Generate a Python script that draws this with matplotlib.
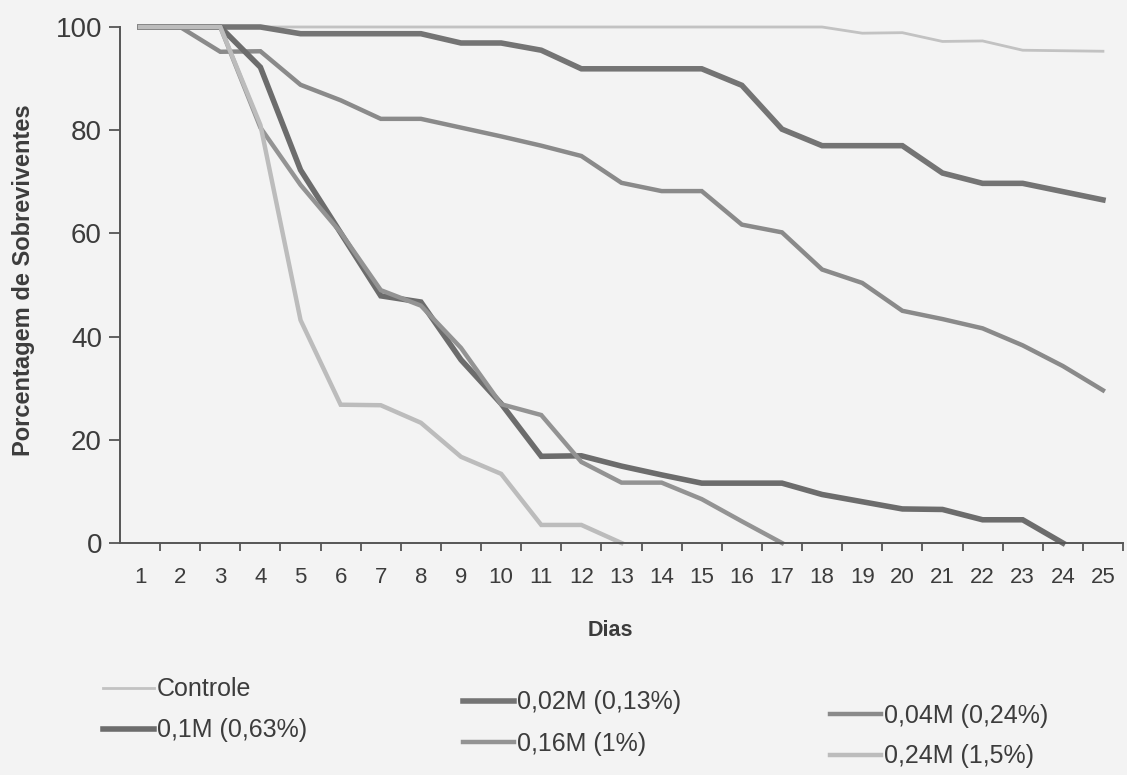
import numpy as np
import matplotlib
matplotlib.use("Agg")
from matplotlib import pyplot as plt

plt.rcParams["font.family"] = ["Liberation Sans", "DejaVu Sans"]

nan = np.nan

DAYS = list(range(1, 26))

CONTROLE = [100, 100, 100, 100, 100, 100, 100, 100, 100, 100, 100, 100, 100,
            100, 100, 100, 100, 100, 98.8, 98.9, 97.2, 97.3, 95.5, 95.4, 95.3]
M_002 = [100, 100, 100, 100, 98.7, 98.7, 98.7, 98.7, 96.9, 96.9, 95.5, 91.9,
         91.9, 91.9, 91.9, 88.7, 80.2, 77.0, 77.0, 77.0, 71.7, 69.7, 69.7,
         68.1, 66.5]
M_004 = [100, 100, 95.2, 95.3, 88.8, 85.8, 82.2, 82.2, 80.5, 78.8, 77.0, 75.0,
         69.8, 68.2, 68.2, 61.7, 60.2, 53.0, 50.4, 45.0, 43.4, 41.6, 38.3,
         34.3, 29.6]
M_01 = [100, 100, 100, 92.2, 72.3, 60.1, 47.9, 46.7, 35.5, 27.0, 16.8, 16.9,
        14.9, 13.2, 11.6, 11.6, 11.6, 9.4, 8.0, 6.6, 6.5, 4.5, 4.5, 0, nan]
M_016 = [100, 100, 100, 80.5, 69.4, 60.2, 49.0, 46.0, 37.8, 26.9, 24.8, 15.7,
         11.7, 11.7, 8.5, 4.2, 0, nan, nan, nan, nan, nan, nan, nan, nan]
M_024 = [100, 100, 100, 81.0, 43.2, 26.8, 26.7, 23.3, 16.7, 13.4, 3.5, 3.5,
         0, nan, nan, nan, nan, nan, nan, nan, nan, nan, nan, nan, nan]

SERIES = [
    ("Controle", CONTROLE, "#c2c2c2", 2.0),
    ("0,02M (0,13%)", M_002, "#747474", 4.0),
    ("0,04M (0,24%)", M_004, "#8a8a8a", 3.2),
    ("0,1M (0,63%)", M_01, "#6c6c6c", 4.0),
    ("0,16M (1%)", M_016, "#939393", 3.2),
    ("0,24M (1,5%)", M_024, "#bcbcbc", 3.2),
]

BG = "#f3f3f3"
AXIS_COLOR = "#555555"
TEXT_COLOR = "#3c3c3c"

W, H = 1127, 775
fig = plt.figure(figsize=(W / 100, H / 100), dpi=100, facecolor=BG)
ax = fig.add_axes([120 / W, 1 - 543 / H, 1003 / W, 516 / H])
ax.set_facecolor(BG)

lines = {}
for name, values, color, lw in SERIES:
    (ln,) = ax.plot(DAYS, values, color=color, linewidth=lw, label=name,
                    clip_on=False, solid_joinstyle="miter")
    lines[name] = ln

ax.set_xlim(0.5, 25.5)
ax.set_ylim(0, 100)

for side in ("top", "right"):
    ax.spines[side].set_visible(False)
for side in ("left", "bottom"):
    ax.spines[side].set_color(AXIS_COLOR)
    ax.spines[side].set_linewidth(1.4)

ax.set_xticks(DAYS)
ax.set_xticklabels([str(d) for d in DAYS])
ax.set_xticks([d + 0.5 for d in DAYS], minor=True)
ax.tick_params(axis="x", which="major", length=0, pad=17,
               labelsize=16, labelcolor=TEXT_COLOR)
ax.tick_params(axis="x", which="minor", length=6, width=1.3,
               direction="out", color=AXIS_COLOR)

ax.set_yticks([0, 20, 40, 60, 80, 100])
ax.tick_params(axis="y", length=8, width=1.3, pad=5, color=AXIS_COLOR,
               labelsize=20, labelcolor=TEXT_COLOR)

ax.set_xlabel("Dias", fontsize=15.5, fontweight="bold", color=TEXT_COLOR)
ax.xaxis.set_label_coords((610 - 120) / 1003, -(630 - 543) / 516)
ax.xaxis.label.set_va("center")
ax.set_ylabel("Porcentagem de Sobreviventes", fontsize=17,
              fontweight="bold", color=TEXT_COLOR)
ax.yaxis.set_label_coords(-(120 - 24) / 1003, (543 - 280) / 516)
ax.yaxis.label.set_va("center")

legend_cols = [
    (["Controle", "0,1M (0,63%)"], 103, 710),
    (["0,02M (0,13%)", "0,16M (1%)"], 463, 723),
    (["0,04M (0,24%)", "0,24M (1,5%)"], 830, 736),
]
for names, x0, yc in legend_cols:
    leg = fig.legend([lines[n] for n in names], names,
                     loc="center left", bbox_to_anchor=(x0 / W, 1 - yc / H),
                     frameon=False, fontsize=18, handlelength=2.05,
                     handletextpad=0.1, labelspacing=0.68, borderpad=0,
                     borderaxespad=0)
    for t in leg.get_texts():
        t.set_color(TEXT_COLOR)

fig.savefig("out.png", dpi=100, facecolor=BG)
